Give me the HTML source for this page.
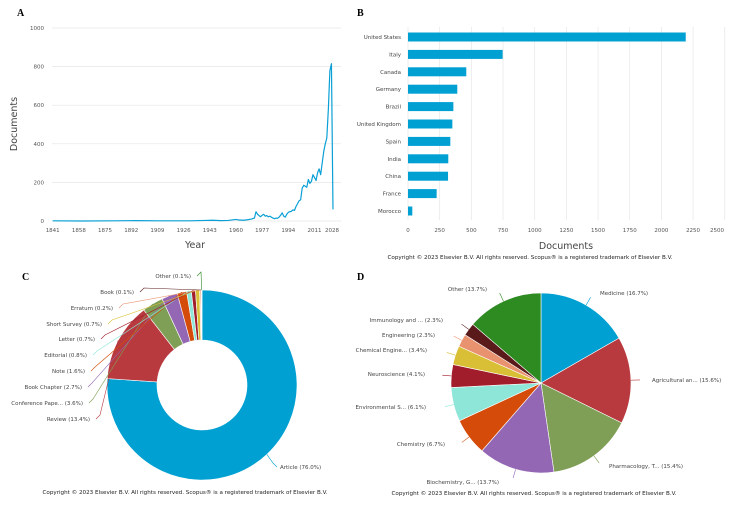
<!DOCTYPE html>
<html><head><meta charset="utf-8"><style>
html,body{margin:0;padding:0;background:#fff;}
svg{display:block;font-family:"DejaVu Sans","Liberation Sans",sans-serif;}
</style></head><body>
<svg id="fig" width="736" height="510" viewBox="0 0 736 510" xmlns="http://www.w3.org/2000/svg">
<text x="17" y="16" font-family="Liberation Serif,serif" font-weight="bold" font-size="10">A</text>
<text x="357" y="16" font-family="Liberation Serif,serif" font-weight="bold" font-size="10">B</text>
<text x="22" y="280" font-family="Liberation Serif,serif" font-weight="bold" font-size="10">C</text>
<text x="357" y="280" font-family="Liberation Serif,serif" font-weight="bold" font-size="10">D</text>
<g id="ga"></g>
<g id="gb"></g>
<g id="gc"></g>
<g id="gd"></g>
</svg>
<script>
const yearsA=[1841,1860,1880,1895,1910,1930,1940,1945,1950,1955,1960,1962,1965,1968,1970,1972,1973,1974,1975,1976,1977,1978,1979,1980,1981,1982,1983,1984,1985,1986,1987,1988,1989,1990,1991,1992,1993,1994,1995,1996,1997,1998,1999,2000,2001,2002,2003,2004,2005,2006,2007,2008,2009,2010,2011,2012,2013,2014,2015,2016,2017,2018,2019,2020,2021,2022,2023];
const docsA=[1,0,1,2,1,1,3,4,2,3,8,5,4,7,10,15,48,35,28,22,30,35,25,28,22,25,20,15,12,15,14,20,30,42,25,20,35,45,48,50,58,55,75,90,105,110,170,185,180,175,215,195,205,240,225,210,250,270,240,300,360,400,430,580,780,815,60];
const yTicksA=[0,200,400,600,800,1000];
const xTicksA=[1841,1858,1875,1892,1909,1926,1943,1960,1977,1994,2011,2028];

const countriesB=["United States","Italy","Canada","Germany","Brazil","United Kingdom","Spain","India","China","France","Morocco"];
const docsB=[2192,747,460,389,358,350,334,318,316,226,34];
const xTicksB=[0,250,500,750,1000,1250,1500,1750,2000,2250,2500];

const typesC=["Article","Review","Conference Pape...","Book Chapter","Note","Editorial","Letter","Short Survey","Erratum","Book","Other"];
const pctC=[76.0,13.4,3.6,2.7,1.6,0.8,0.7,0.7,0.2,0.1,0.1];

const areasD=["Medicine","Agricultural an...","Pharmacology, T...","Biochemistry, G...","Chemistry","Environmental S...","Neuroscience","Chemical Engine...","Engineering","Immunology and ...","Other"];
const pctD=[16.7,15.6,15.4,13.7,6.7,6.1,4.1,3.4,2.3,2.3,13.7];

const COLORS=["#00a0d2","#b83a3f","#7f9f56","#9467b4","#d44b0a","#8ee6d8","#a11d2b","#d9bf35","#e99270","#5a1a1a","#2e8b22"];
const NS="http://www.w3.org/2000/svg";
function mk(p,tag,a,txt){const e=document.createElementNS(NS,tag);for(const k in a)e.setAttribute(k,a[k]);if(txt!==undefined)e.textContent=txt;p.appendChild(e);return e;}

// ---- Panel A
const ga=document.getElementById('ga');
const xA=y=>52.7+(y-1841)*1.54;
const yA=v=>221-v*0.193;
yTicksA.forEach(t=>{
  const l=mk(ga,'line',{x1:52,x2:341,y1:yA(t),y2:yA(t),stroke:'#e6e6e6','stroke-width':0.7});
  
  
  const tx=mk(ga,'text',{x:44,y:yA(t)+2,'font-size':5.5,fill:'#555','text-anchor':'end'},t);
  
  
});
xTicksA.forEach(t=>{
  const tx=mk(ga,'text',{x:Math.min(xA(t),332),y:232,'font-size':5.5,fill:'#555','text-anchor':'middle'},t);
  
  
});
const pathA=mk(ga,'polyline',{points:yearsA.map((y,i)=>xA(y)+','+yA(docsA[i])).join(' '),fill:'none',stroke:'#0aa0d6','stroke-width':1.2,'stroke-linejoin':'round'});


const xtA=mk(ga,'text',{x:195,y:248,'font-size':9.5,fill:'#444','text-anchor':'middle'},'Year');


const ytA=mk(ga,'text',{x:0,y:0,'font-size':9.5,fill:'#444','text-anchor':'middle',transform:'translate(17,124) rotate(-90)'},'Documents');



// ---- Panel B
const gb=document.getElementById('gb');
const xB=v=>408+v*0.1267;
const yB=i=>37+i*17.4;
xTicksB.forEach(t=>{
  const l=mk(gb,'line',{x1:xB(t),x2:xB(t),y1:27,y2:220,stroke:'#e6e6e6','stroke-width':0.7});
  
  
  const tx=mk(gb,'text',{x:Math.min(xB(t),717),y:232,'font-size':5.5,fill:'#555','text-anchor':'middle'},t);
  
  
});
countriesB.forEach((c,i)=>{
  const r=mk(gb,'rect',{x:xB(0),y:yB(i)-4.5,width:xB(docsB[i])-xB(0),height:9,fill:'#00a0d2'});
  
  
  const tx=mk(gb,'text',{x:401,y:yB(i)+2,'font-size':5.5,fill:'#444','text-anchor':'end'},c);
  
  
});
const xtB=mk(gb,'text',{x:566,y:249,'font-size':9.5,fill:'#444','text-anchor':'middle'},'Documents');


const cpB=mk(gb,'text',{x:530,y:259,'font-size':5.6,fill:'#222','text-anchor':'middle'},'Copyright © 2023 Elsevier B.V. All rights reserved. Scopus® is a registered trademark of Elsevier B.V.');



// ---- pie helper
function pol(cx,cy,r,a){return [cx+r*Math.sin(a),cy-r*Math.cos(a)];}
function slices(g,cx,cy,R,r0,pcts,names,prefix){
  const tot=pcts.reduce((a,b)=>a+b,0);let a=0;const mids=[];
  pcts.forEach((p,i)=>{
    const a1=a+p/tot*2*Math.PI;const large=(a1-a)>Math.PI?1:0;
    const [x0,y0]=pol(cx,cy,R,a),[x1,y1]=pol(cx,cy,R,a1);
    let d;
    if(r0>0){const [x2,y2]=pol(cx,cy,r0,a1),[x3,y3]=pol(cx,cy,r0,a);
      d=`M${x0},${y0}A${R},${R} 0 ${large} 1 ${x1},${y1}L${x2},${y2}A${r0},${r0} 0 ${large} 0 ${x3},${y3}Z`;}
    else d=`M${cx},${cy}L${x0},${y0}A${R},${R} 0 ${large} 1 ${x1},${y1}Z`;
    const s=mk(g,'path',{d:d,fill:COLORS[i],stroke:'#fff','stroke-width':0.6});
    
    
    mids.push((a+a1)/2);a=a1;
  });
  return mids;
}

// ---- Panel C
const gc=document.getElementById('gc');
const cC=[202,385],RC=95,rC=45;
const midsC=slices(gc,cC[0],cC[1],RC,rC,pctC,typesC,'c');
const labC=[[280,469,'start'],[94,421,'end'],[87,405,'end'],[86,389,'end'],[89,373,'end'],[91,357,'end'],[99,341,'end'],[106,326,'end'],[117,310,'end'],[138,294,'end'],[195,278,'end']];
typesC.forEach((n,i)=>{
  const [lx,ly,an]=labC[i];
  const [px,py]=pol(cC[0],cC[1],RC,midsC[i]);
  const sx=an==='end'?lx+2:lx-3;
  const ln=mk(gc,'polyline',{points:`${sx},${ly-2} ${an==='end'?sx+4:sx-4},${ly-6} ${px},${py}`,fill:'none',stroke:COLORS[i],'stroke-width':0.6});
  
  
  const tx=mk(gc,'text',{x:an==='end'?lx-4:lx,y:ly,'font-size':5.5,fill:'#444','text-anchor':an},n+' ('+pctC[i].toFixed(1)+'%)');
  
  
});
const cpC=mk(gc,'text',{x:185,y:494,'font-size':5.6,fill:'#222','text-anchor':'middle'},'Copyright © 2023 Elsevier B.V. All rights reserved. Scopus® is a registered trademark of Elsevier B.V.');



// ---- Panel D
const gd=document.getElementById('gd');
const cD=[541,383],RD=90;
const midsD=slices(gd,cD[0],cD[1],RD,0,pctD,areasD,'d');
const labD=[[600,295,'start'],[652,382,'start'],[609,468,'start'],[499,484,'end'],[445,446,'end'],[426,409,'end'],[425,376,'end'],[427,352,'end'],[435,337,'end'],[443,322,'end'],[487,291,'end']];
areasD.forEach((n,i)=>{
  const [lx,ly,an]=labD[i];
  const [px,py]=pol(cD[0],cD[1],RD,midsD[i]);
  const [qx,qy]=pol(cD[0],cD[1],RD+9,midsD[i]);
  const ln=mk(gd,'line',{x1:px,y1:py,x2:qx,y2:qy,stroke:COLORS[i],'stroke-width':0.6});
  
  
  const tx=mk(gd,'text',{x:lx,y:ly,'font-size':5.5,fill:'#444','text-anchor':an},n+' ('+pctD[i].toFixed(1)+'%)');
  
  
});
const cpD=mk(gd,'text',{x:534,y:495,'font-size':5.6,fill:'#222','text-anchor':'middle'},'Copyright © 2023 Elsevier B.V. All rights reserved. Scopus® is a registered trademark of Elsevier B.V.');


</script>
</body></html>
